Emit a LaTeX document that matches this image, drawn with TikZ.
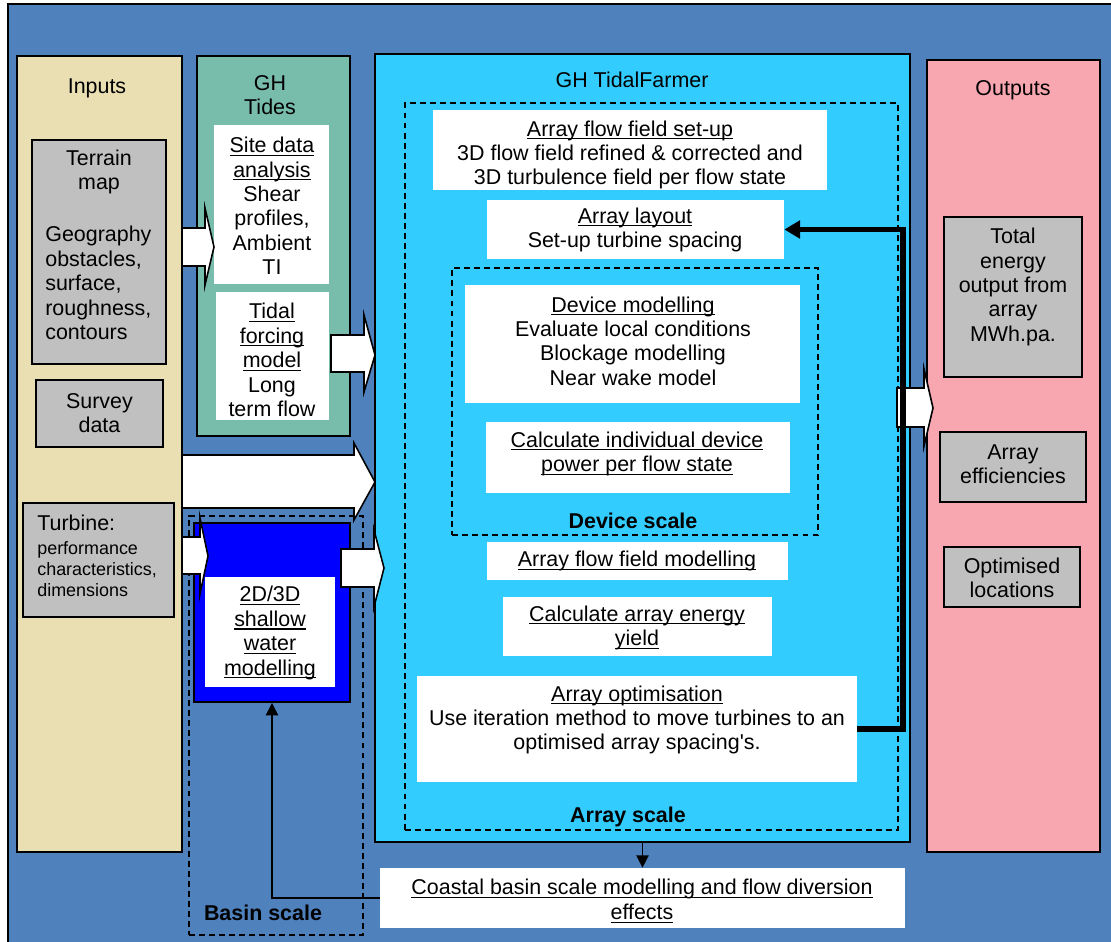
\documentclass[tikz,border=0pt]{standalone}
\usepackage{fontspec}
\setmainfont{Liberation Sans}
\newfontfamily\plainfont{Liberation Sans}
\usetikzlibrary{fit,arrows.meta}
\definecolor{bgblue}{RGB}{79,129,189}
\definecolor{inputc}{RGB}{234,223,178}
\definecolor{tidesc}{RGB}{120,188,172}
\definecolor{farmc}{RGB}{51,204,255}
\definecolor{outc}{RGB}{248,166,176}
\definecolor{boxgray}{RGB}{192,192,192}
\definecolor{deepblue}{RGB}{0,0,255}
\newcommand\uln[1]{\setbox0\hbox{#1}\rlap{\rule[-1.8pt]{\wd0}{0.6pt}}\box0}
\begin{document}
\begin{tikzpicture}[x=0.02cm,y=-0.02cm,
  panel/.style={draw=black,line width=1.1pt,inner sep=0pt},
  wbox/.style={fill=white,inner sep=0pt},
  gbox/.style={fill=boxgray,draw=black,line width=1pt,inner sep=0pt},
  txt/.style={inner sep=0pt,align=center,font=\fontsize{12.2}{13.9}\selectfont},
  smalltxt/.style={inner sep=0pt,align=left,font=\fontsize{10.2}{11.9}\selectfont},
  boldtxt/.style={inner sep=0pt,font=\fontsize{12.2}{13.9}\selectfont\bfseries},
  dashbox/.style={draw=black,line width=0.8pt,dash pattern=on 3.4pt off 2.3pt,inner sep=0pt},
  barrow/.style={fill=white,draw=black,line width=0.9pt,line join=miter},
  thin/.style={draw=black,line width=0.8pt,-{Triangle[length=7pt,width=7pt]}},
  thick/.style={draw=black,line width=2.9pt,-{Triangle[length=9pt,width=10pt]}}
]
\useasboundingbox (0,0) rectangle (1111,942);
\fill[white] (0,0) rectangle (1111,942);
\draw[fill=bgblue,draw=black,line width=1.1pt] (8,4) rectangle (1113,944);

% main panels
\node[panel,fill=inputc,fit={(17,56)(182,852)}] (inputs) {};
\node[panel,fill=tidesc,fit={(197,56)(350,436)}] (tides) {};
\node[panel,fill=farmc,fit={(375,54)(910,842)}] (farm) {};
\node[panel,fill=outc,fit={(927,60)(1100,852)}] (outputs) {};

% titles
\node[txt] (tinputs) at (97,88) {Inputs};
\node[txt] (ttides) at (270,95) {GH\\Tides};
\node[txt] (tfarm) at (632,80) {GH TidalFarmer};
\node[txt] (toutputs) at (1013,90) {Outputs};

% inputs contents
\node[gbox,fit={(32,140)(166,364)}] (terrain) {};
\node[txt] (tterrain) at (99,172) {Terrain\\map};
\node[txt,align=left,anchor=west] (tgeo) at (45,283) {Geography\\obstacles,\\surface,\\roughness,\\contours};
\node[gbox,fit={(36,380)(163,447)}] (survey) {};
\node[txt] (tsurvey) at (99.5,413) {Survey\\data};
\node[gbox,fit={(23,503)(174,617)}] (turbine) {};
\node[txt,anchor=west] (tturb) at (37,523) {Turbine:};
\node[smalltxt,anchor=west] (tturb2) at (37,569) {performance\\characteristics,\\dimensions};

% tides contents
\node[wbox,fit={(214,125)(329,284)}] (site) {};
\node[txt] (tsite) at (272,206) {\uln{Site data}\\\uln{analysis}\\Shear\\profiles,\\Ambient\\TI};
\node[wbox,fit={(216,292)(329,420)}] (tidal) {};
\node[txt] (ttidal) at (272,360) {\uln{Tidal}\\\uln{forcing}\\\uln{model}\\Long\\term flow};

% basin scale
\node[panel,fill=deepblue,fit={(194,523)(350,702)}] (shallow) {};
\node[wbox,fit={(205,577)(335,687)}] (shallowin) {};
\node[txt] (tshallow) at (270,633) {\uln{2D/3D}\\\uln{shallow}\\\uln{water}\\\uln{modelling}};
\node[dashbox,fit={(189,516)(363,935)}] (basin) {};
\node[boldtxt] (tbasin) at (263,913) {Basin scale};

% farm contents
\node[dashbox,fit={(405,103)(898,830)}] (arrayscale) {};
\node[boldtxt] (tarrayscale) at (628,817) {Array scale};
\node[dashbox,fit={(452,268)(818,535)}] (devscale) {};
\node[boldtxt] (tdevscale) at (633,521) {Device scale};

\node[wbox,fit={(433,110)(827,190)}] (setup) {};
\node[txt] (tsetup) at (630,155) {\uln{Array flow field set-up}\\3D flow field refined \& corrected and\\3D turbulence field per flow state};
\node[wbox,fit={(487,200)(784,259)}] (layout) {};
\node[txt] (tlayout) at (635,230) {\uln{Array layout}\\Set-up turbine spacing};
\node[wbox,fit={(465,285)(800,403)}] (device) {};
\node[txt] (tdevice) at (633,341) {\uln{Device modelling}\\Evaluate local conditions\\Blockage modelling\\Near wake model};
\node[wbox,fit={(486,422)(790,493)}] (indiv) {};
\node[txt] (tindiv) at (637,454) {\uln{Calculate individual device}\\\uln{power per flow state}};
\node[wbox,fit={(487,542)(788,580)}] (afm) {};
\node[txt] (tafm) at (637,561) {\uln{Array flow field modelling}};
\node[wbox,fit={(503,597)(772,656)}] (energy) {};
\node[txt] (tenergy) at (637,628) {\uln{Calculate array energy}\\\uln{yield}};
\node[wbox,fit={(417,676)(857,782)}] (opt) {};
\node[txt] (topt) at (637,720) {\uln{Array optimisation}\\Use iteration method to move turbines to an\\optimised array spacing{\plainfont'}s.};

% coastal
\node[wbox,fit={(380,868)(905,928)}] (coastal) {};
\node[txt] (tcoastal) at (642,901) {\uln{Coastal basin scale modelling and flow diversion}\\\uln{effects}};

% outputs contents
\node[gbox,fit={(944,217)(1082,377)}] (total) {};
\node[txt] (ttotal) at (1013,287) {Total\\energy\\output from\\array\\MWh.pa.};
\node[gbox,fit={(940,432)(1086,502)}] (eff) {};
\node[txt] (teff) at (1013,464) {Array\\efficiencies};
\node[gbox,fit={(944,547)(1080,607)}] (optloc) {};
\node[txt] (toptloc) at (1012,578) {Optimised\\locations};

% block arrows
\draw[barrow] (182,228)--(205,228)--(205,208)--(214,247)--(205,285)--(205,266)--(182,266)--cycle;
\draw[barrow] (331,335)--(364,335)--(364,315)--(375,355)--(364,392)--(364,372)--(331,372)--cycle;
\draw[barrow] (182,455)--(354,455)--(354,443)--(375,482)--(354,520)--(354,508)--(182,508)--cycle;
\draw[barrow] (182,537)--(200,537)--(200,518)--(208,556)--(200,594)--(200,574)--(182,574)--cycle;
\draw[barrow] (341,549)--(374,549)--(374,530)--(384,568)--(374,607)--(374,587)--(341,587)--cycle;
\draw[barrow] (897,388)--(924,388)--(924,369)--(933,408)--(924,446)--(924,427)--(897,427)--cycle;

% connectors
\coordinate (fbk) at (903,729);
\draw[thick] (opt.east) -- (fbk) |- (layout.east);
\draw[thin] (farm.south) -- (coastal.north);
\draw[thin] (coastal.west) -| (shallow.south);
\end{tikzpicture}
\end{document}
